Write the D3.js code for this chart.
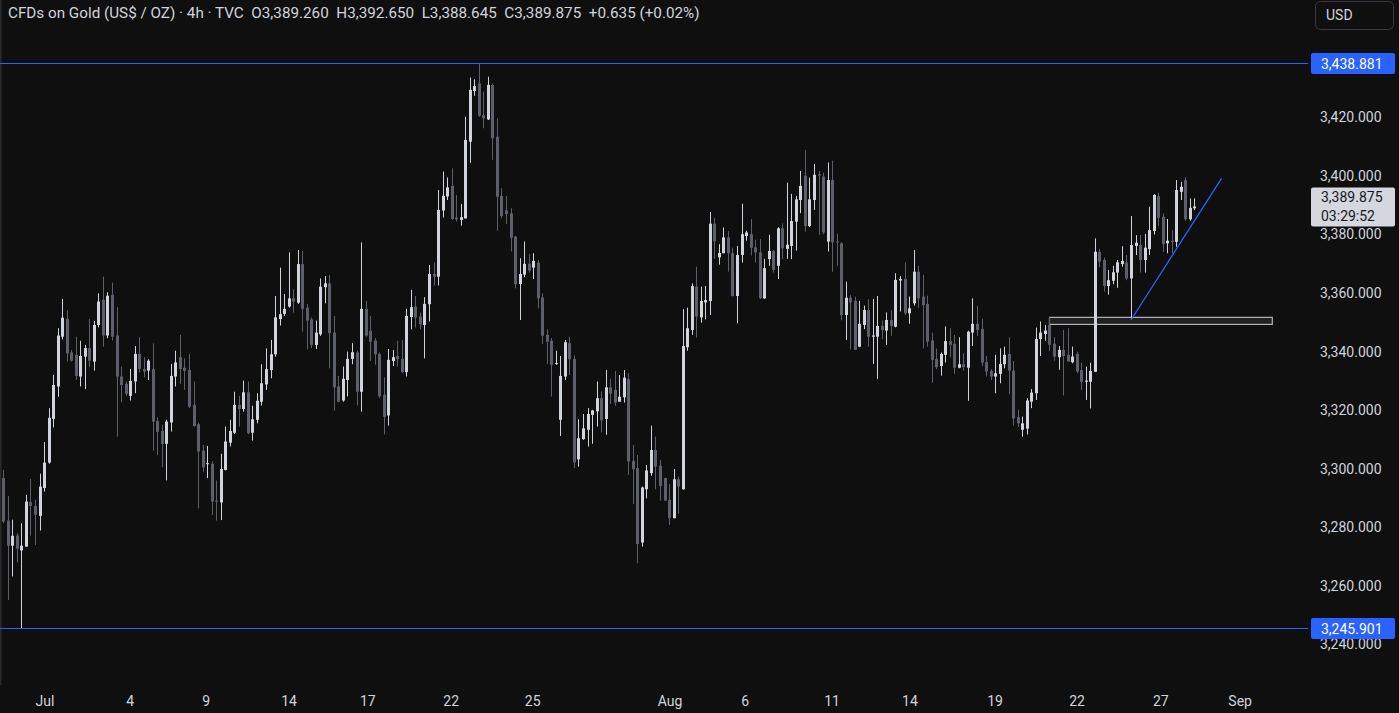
<!DOCTYPE html>
<html><head><meta charset="utf-8">
<script src="https://cdn.jsdelivr.net/npm/d3@7"></script>
<style>html,body{margin:0;padding:0;background:#0f0f0f;overflow:hidden}svg{display:block}</style>
</head><body><svg id="c" width="1399" height="713"></svg>
<script>
// ---- DATA ----
const openP=[
3297.1,3282.6,3274.0,3277.5,3272.4,3273.7,3288.9,3287.6,3284.2,3293.7,
3302.4,3317.3,3328.4,3345.4,3351.5,3340.0,3339.2,3331.8,3338.6,3341.5,
3336.9,3349.4,3358.0,3345.8,3359.7,3345.8,3331.8,3329.3,3325.2,3330.1,
3339.5,3334.4,3333.8,3334.4,3316.6,3313.2,3308.8,3316.1,3331.8,3338.4,
3334.8,3334.0,3322.1,3315.5,3306.5,3302.0,3302.0,3289.4,3288.8,3299.9,
3309.2,3312.6,3322.1,3320.7,3326.4,3312.6,3317.0,3323.2,3329.1,3334.0,
3339.4,3351.4,3353.2,3355.7,3358.5,3357.0,3370.2,3355.3,3351.3,3342.6,
3346.2,3362.3,3363.6,3346.8,3328.4,3323.6,3330.6,3337.8,3340.0,3326.6,
3354.9,3347.4,3344.1,3339.5,3325.6,3318.5,3337.1,3338.8,3337.8,3333.3,
3352.1,3355.7,3352.3,3349.4,3356.5,3366.8,3365.9,3388.5,3393.3,3396.9,
3386.1,3385.3,3385.8,3412.0,3429.3,3431.9,3421.1,3419.6,3431.4,3413.7,
3393.5,3388.5,3387.5,3379.6,3363.4,3366.6,3370.3,3369.0,3370.7,3358.8,
3346.0,3344.0,3336.1,3317.0,3331.8,3343.2,3337.8,3303.5,3310.4,3313.6,
3318.7,3319.9,3324.4,3317.3,3328.1,3327.2,3323.2,3324.7,3330.9,3303.0,
3300.5,3275.1,3293.3,3298.8,3306.7,3301.3,3297.1,3289.7,3283.4,3296.7,
3293.3,3341.8,3347.7,3362.5,3352.0,3357.1,3357.6,3384.0,3372.5,3373.9,
3379.3,3373.9,3359.3,3373.3,3379.8,3380.4,3375.9,3374.2,3358.5,3371.9,
3374.7,3369.6,3382.4,3375.4,3376.4,3384.7,3392.1,3400.4,3383.2,3392.1,
3400.9,3400.1,3377.9,3398.9,3377.9,3377.3,3352.8,3358.7,3357.7,3342.0,
3349.4,3354.5,3345.4,3345.4,3349.1,3347.5,3351.1,3348.8,3364.6,3365.1,
3353.4,3356.8,3367.6,3359.1,3356.6,3344.1,3337.8,3335.4,3339.2,3343.9,
3343.0,3334.8,3336.0,3334.8,3346.8,3349.8,3348.0,3336.7,3333.7,3331.8,
3332.7,3336.0,3339.5,3333.8,3317.9,3313.6,3314.0,3323.2,3326.1,3344.6,
3346.3,3349.4,3343.0,3338.4,3340.9,3339.2,3336.7,3339.5,3334.0,3330.0,
3330.0,3333.4,3374.4,3371.6,3362.7,3364.5,3367.3,3370.2,3370.8,3365.3,
3376.4,3376.7,3371.6,3375.3,3381.5,3393.4,3386.4,3377.3,3378.2,3377.8,
3394.9,3398.9,3385.5,3389.26];
const highP=[
3299.9,3291.0,3282.9,3278.3,3281.7,3291.4,3296.8,3289.7,3298.6,3309.4,
3321.0,3332.4,3348.3,3358.3,3354.5,3340.9,3345.4,3344.0,3342.6,3351.4,
3350.8,3360.2,3365.9,3360.6,3363.9,3355.5,3335.2,3330.1,3334.4,3342.2,
3345.2,3338.4,3337.7,3343.1,3317.9,3315.3,3317.0,3336.1,3340.6,3346.0,
3338.0,3339.5,3330.1,3316.1,3308.4,3308.1,3302.8,3296.3,3305.4,3314.7,
3317.0,3326.6,3325.2,3330.4,3330.1,3321.8,3326.1,3336.0,3341.4,3344.3,
3359.3,3369.0,3360.0,3374.2,3361.6,3375.0,3374.7,3356.6,3352.0,3350.9,
3365.3,3366.1,3366.5,3352.5,3332.0,3335.2,3340.3,3343.2,3340.6,3377.6,
3357.6,3352.5,3344.9,3340.0,3331.5,3341.2,3340.9,3344.0,3344.3,3354.9,
3361.4,3359.3,3353.6,3358.9,3369.9,3370.8,3395.5,3401.8,3399.8,3402.9,
3393.8,3390.7,3420.5,3433.9,3433.3,3438.881,3429.1,3434.2,3431.9,3420.0,
3396.1,3393.5,3389.3,3379.8,3372.2,3377.9,3373.7,3373.9,3371.6,3360.2,
3347.9,3344.9,3340.6,3338.8,3344.3,3345.4,3339.0,3317.2,3319.0,3321.0,
3320.4,3330.1,3326.7,3334.0,3331.0,3333.7,3332.3,3334.0,3332.9,3308.4,
3305.0,3294.2,3301.6,3315.0,3311.3,3303.3,3297.3,3295.1,3300.2,3297.6,
3354.8,3355.3,3363.6,3369.3,3362.5,3362.7,3388.0,3386.0,3377.0,3382.7,
3381.5,3375.8,3376.4,3390.8,3381.6,3385.6,3378.5,3378.8,3372.0,3380.2,
3375.0,3382.8,3384.1,3398.0,3394.2,3393.5,3402.0,3409.2,3399.7,3404.4,
3402.0,3401.4,3404.9,3405.5,3380.5,3377.6,3364.2,3359.6,3359.1,3357.6,
3356.0,3358.2,3358.3,3359.3,3350.9,3353.7,3354.5,3367.1,3366.1,3370.8,
3359.1,3375.0,3369.6,3366.5,3359.4,3346.8,3341.4,3340.0,3348.9,3348.3,
3346.0,3345.2,3339.7,3347.4,3358.5,3355.9,3351.5,3338.8,3334.3,3339.2,
3341.4,3342.0,3345.2,3337.1,3320.4,3318.1,3324.4,3327.5,3348.5,3350.6,
3349.4,3352.0,3345.2,3342.2,3347.7,3348.3,3342.0,3340.3,3336.5,3335.2,
3336.5,3379.0,3375.3,3372.4,3368.2,3369.6,3371.6,3376.3,3373.3,3386.6,
3380.1,3380.1,3380.5,3389.8,3394.1,3394.6,3387.5,3385.6,3381.8,3398.9,
3398.3,3399.8,3392.6,3392.65];
const lowP=[
3281.7,3255.5,3263.5,3268.3,3245.901,3273.7,3277.4,3274.3,3279.2,3292.5,
3302.0,3314.4,3324.9,3344.5,3336.9,3336.9,3330.6,3328.4,3327.5,3335.0,
3333.8,3348.6,3342.0,3344.9,3344.1,3311.3,3323.0,3325.2,3323.6,3326.1,
3333.2,3331.5,3330.6,3306.5,3305.0,3300.8,3296.3,3313.0,3328.4,3329.3,
3327.2,3321.0,3314.7,3286.8,3299.3,3297.1,3284.5,3282.6,3282.8,3299.7,
3307.9,3312.2,3314.7,3319.8,3312.1,3309.9,3315.8,3321.9,3327.2,3331.2,
3338.6,3349.2,3352.5,3355.3,3353.6,3356.6,3347.1,3341.1,3341.5,3341.2,
3345.7,3356.8,3334.6,3320.2,3323.0,3323.2,3325.0,3336.0,3321.9,3319.8,
3345.4,3337.1,3335.8,3324.4,3312.0,3315.0,3335.4,3335.2,3332.9,3331.8,
3347.9,3348.5,3347.9,3338.0,3350.6,3362.9,3362.9,3386.1,3392.1,3385.3,
3384.7,3383.3,3385.8,3404.8,3427.7,3420.5,3416.6,3419.4,3405.8,3381.6,
3385.8,3383.9,3374.5,3361.9,3351.1,3365.7,3367.3,3365.1,3355.1,3342.9,
3336.1,3325.0,3335.8,3311.5,3330.6,3332.3,3300.5,3301.0,3310.2,3307.9,
3308.8,3314.7,3312.7,3311.9,3322.4,3321.8,3323.2,3322.9,3298.2,3288.3,
3268.0,3273.7,3290.2,3297.9,3293.3,3289.4,3289.4,3281.1,3283.4,3284.9,
3293.1,3340.6,3346.0,3345.1,3350.2,3351.3,3352.8,3372.0,3370.0,3373.9,
3367.6,3359.1,3350.0,3370.7,3378.2,3373.1,3370.7,3358.3,3358.3,3369.6,
3367.3,3365.1,3371.9,3372.0,3371.9,3374.8,3387.6,3381.3,3382.8,3388.7,
3380.2,3380.4,3374.5,3367.6,3369.6,3351.0,3344.3,3341.1,3340.9,3341.8,
3348.0,3342.0,3336.1,3331.0,3344.5,3342.6,3345.7,3348.6,3354.0,3352.8,
3349.8,3356.0,3355.3,3341.4,3342.0,3329.7,3334.3,3332.1,3336.6,3338.3,
3332.7,3334.6,3333.8,3323.5,3342.2,3345.7,3335.4,3331.8,3330.6,3326.1,
3329.5,3334.6,3325.7,3315.0,3314.5,3311.2,3312.0,3321.0,3323.8,3338.8,
3344.0,3340.6,3337.2,3334.1,3325.3,3336.9,3336.3,3332.9,3327.2,3323.8,
3320.9,3333.4,3369.1,3360.8,3359.8,3363.3,3362.1,3369.3,3364.7,3351.1,
3373.3,3367.3,3367.3,3373.3,3380.3,3383.2,3374.4,3373.9,3373.9,3376.1,
3392.1,3385.0,3385.0,3388.645];
const closeP=[
3282.3,3274.0,3277.4,3273.0,3274.0,3289.1,3287.6,3284.6,3294.2,3302.4,
3317.7,3328.9,3345.8,3351.9,3339.7,3337.2,3332.0,3338.8,3341.5,3337.2,
3349.4,3357.4,3345.8,3359.4,3345.4,3331.8,3328.9,3325.9,3330.3,3339.5,
3334.4,3333.5,3337.2,3316.4,3312.9,3308.8,3316.4,3332.0,3336.6,3334.4,
3333.7,3321.5,3314.9,3306.2,3300.8,3302.2,3289.1,3289.0,3300.2,3309.6,
3313.2,3322.1,3320.7,3326.4,3312.4,3317.2,3323.5,3329.5,3334.3,3339.4,
3352.0,3353.1,3354.9,3358.5,3357.4,3370.2,3354.9,3350.9,3342.6,3346.8,
3362.5,3363.6,3346.6,3328.1,3323.2,3331.0,3337.8,3340.1,3326.6,3354.9,
3345.8,3343.7,3339.4,3325.0,3318.0,3337.5,3338.4,3337.7,3333.3,3352.5,
3355.5,3351.9,3349.6,3356.6,3366.8,3365.9,3388.7,3393.5,3396.4,3385.6,
3385.5,3386.2,3412.6,3429.7,3431.0,3420.9,3420.0,3431.4,3413.2,3393.2,
3386.6,3387.3,3379.2,3363.3,3366.8,3370.3,3368.0,3371.3,3358.5,3345.7,
3343.7,3335.8,3336.4,3332.0,3343.5,3337.7,3302.5,3310.7,3314.1,3319.0,
3320.2,3324.4,3316.8,3328.1,3325.9,3322.9,3324.9,3331.4,3302.8,3300.1,
3274.6,3293.9,3299.7,3306.7,3301.0,3294.4,3289.4,3283.4,3296.7,3294.2,
3342.2,3348.3,3362.7,3352.3,3357.6,3357.9,3384.0,3378.0,3374.0,3379.3,
3373.9,3359.3,3373.3,3380.4,3381.0,3375.8,3374.2,3358.5,3368.8,3374.7,
3368.2,3382.4,3375.6,3376.8,3384.9,3392.3,3396.9,3383.2,3392.3,3400.7,
3400.4,3381.0,3398.9,3377.6,3377.6,3352.8,3358.7,3357.1,3340.9,3349.8,
3354.5,3345.4,3345.8,3349.1,3347.7,3351.1,3349.1,3364.8,3365.1,3353.4,
3355.1,3367.6,3358.5,3356.2,3343.7,3337.5,3335.0,3339.5,3343.9,3342.6,
3334.8,3336.0,3335.0,3347.1,3349.8,3347.7,3336.6,3333.5,3331.8,3332.9,
3336.1,3339.2,3333.8,3317.5,3315.8,3315.8,3323.6,3326.3,3344.6,3346.8,
3347.5,3342.6,3338.6,3340.9,3338.8,3336.9,3338.6,3333.5,3330.0,3330.4,
3333.7,3374.4,3371.0,3362.7,3364.7,3367.4,3370.8,3371.3,3365.3,3376.7,
3377.5,3371.6,3375.8,3381.8,3393.8,3386.0,3377.0,3378.2,3377.8,3395.5,
3396.6,3385.5,3389.4,3389.875];

const dateLabels=["Jul","4","9","14","17","22","25","Aug","6","11","14","19","22","27","Sep"];
const dateBarIdx=[9.2,28,44.8,63.1,80.5,98.9,116.9,147.2,163.8,183,200.2,219,237.1,255.6,273.1];
const priceTicks=[3420,3400,3380,3360,3340,3320,3300,3280,3260,3240];
const levelLines=[3438.881,3245.901];
const zoneBox={i0:231,i1:280.2,top:3352.0,bottom:3349.6};
const trendLine=[{i:249,p:3351.1},{i:269,p:3399.5}];
const lastPrice=3389.875, countdown="03:29:52";
const headerTitle="CFDs on Gold (US$ / OZ) · 4h · TVC";
const headerOHLC=["O3,389.260","H3,392.650","L3,388.645","C3,389.875","+0.635 (+0.02%)"];

// ---- CHART ----
const W=1399,H=713,axisX=1308;
const svg=d3.select("#c");
const FONT="Roboto, 'Noto Sans', sans-serif";
const TXT="#d1d4dc", BULL="#d1d4dc", BEAR="#5d606b", BLUE="#2962ff";
svg.append("rect").attr("width",W).attr("height",H).attr("fill","#0f0f0f");
svg.append("rect").attr("x",0).attr("y",0).attr("width",1.5).attr("height",685).attr("fill","#2a2a2a");

const n=openP.length;
const x=d3.scaleLinear().domain([0,n-1]).range([3.3,1194.4]);
const y=d3.scaleLinear().domain([levelLines[0],levelLines[1]]).range([63,628]);

const plot=svg.append("g");

// zone rectangle
plot.append("rect").attr("x",x(zoneBox.i0)).attr("y",y(zoneBox.top))
 .attr("width",x(zoneBox.i1)-x(zoneBox.i0)).attr("height",y(zoneBox.bottom)-y(zoneBox.top))
 .attr("fill","rgba(255,255,255,0.08)").attr("stroke","#b2b5be").attr("stroke-width",1.2);

// candles
const idx=d3.range(n);
const g=plot.append("g");
g.selectAll("line").data(idx).join("line")
 .attr("x1",i=>Math.round(x(i))+0.5).attr("x2",i=>Math.round(x(i))+0.5)
 .attr("y1",i=>y(highP[i])).attr("y2",i=>y(lowP[i]))
 .attr("stroke",i=>closeP[i]>=openP[i]?BULL:BEAR).attr("stroke-width",1);
g.selectAll("rect").data(idx).join("rect")
 .attr("x",i=>Math.round(x(i))-1).attr("width",3)
 .attr("y",i=>y(Math.max(openP[i],closeP[i])))
 .attr("height",i=>Math.max(1,y(Math.min(openP[i],closeP[i]))-y(Math.max(openP[i],closeP[i]))))
 .attr("fill",i=>closeP[i]>=openP[i]?BULL:BEAR);

// level lines (blue)
const lv=svg.append("g");
lv.selectAll("rect").data(levelLines).join("rect")
 .attr("x",0).attr("width",axisX).attr("y",d=>Math.round(y(d))).attr("height",1)
 .attr("fill",BLUE).attr("shape-rendering","crispEdges");

// trend line
plot.append("line").attr("x1",x(trendLine[0].i)).attr("y1",y(trendLine[0].p))
 .attr("x2",x(trendLine[1].i)).attr("y2",y(trendLine[1].p))
 .attr("stroke",BLUE).attr("stroke-width",1.3);

const AXF=14;
// price axis labels
const ax=svg.append("g");
ax.selectAll("text").data(priceTicks).join("text")
 .attr("x",1320).attr("y",d=>y(d)-1).attr("dominant-baseline","central")
 .attr("font-family",FONT).attr("font-size",AXF).attr("fill",TXT)
 .text(d=>d3.format(",.3f")(d));

// level labels
levelLines.forEach(v=>{
  const yy=Math.round(y(v));
  svg.append("rect").attr("x",1311).attr("y",yy-10).attr("width",84).attr("height",21).attr("rx",2).attr("fill",BLUE);
  svg.append("text").attr("x",1321).attr("y",yy+0.5).attr("dominant-baseline","central")
   .attr("font-family",FONT).attr("font-size",AXF).attr("fill","#ffffff").text(d3.format(",.3f")(v));
});

// last price label
const ly=y(lastPrice);
svg.append("rect").attr("x",1311).attr("y",ly-19).attr("width",84).attr("height",39).attr("rx",2).attr("fill","#d5d7df");
svg.append("text").attr("x",1321).attr("y",ly-9).attr("dominant-baseline","central")
 .attr("font-family",FONT).attr("font-size",AXF).attr("fill","#131722").text(d3.format(",.3f")(lastPrice));
svg.append("text").attr("x",1321).attr("y",ly+10).attr("dominant-baseline","central")
 .attr("font-family",FONT).attr("font-size",AXF).attr("fill","#131722").text(countdown);

// USD button
svg.append("rect").attr("x",1315.5).attr("y",1.5).attr("width",78).attr("height",28).attr("rx",5)
 .attr("fill","none").attr("stroke","#363a45");
svg.append("text").attr("x",1326).attr("y",15).attr("dominant-baseline","central")
 .attr("font-family",FONT).attr("font-size",AXF).attr("fill",TXT).text("USD");

// date axis
const dx=svg.append("g");
dx.selectAll("text").data(dateLabels).join("text")
 .attr("x",(d,i)=>x(dateBarIdx[i])).attr("y",701).attr("text-anchor","middle").attr("dominant-baseline","central")
 .attr("font-family",FONT).attr("font-size",AXF).attr("fill",TXT).text(d=>d);

// header
const hdr=svg.append("text").attr("x",8).attr("y",13).attr("dominant-baseline","central")
 .attr("font-family",FONT).attr("font-size",14).attr("fill",TXT).attr("xml:space","preserve")
 .style("white-space","pre")
 .text(headerTitle+"  "+headerOHLC.join("  "));
const hw=hdr.node().getComputedTextLength();
if(hw>0) hdr.attr("font-size",Math.min(16,14*692/hw));
</script></body></html>
